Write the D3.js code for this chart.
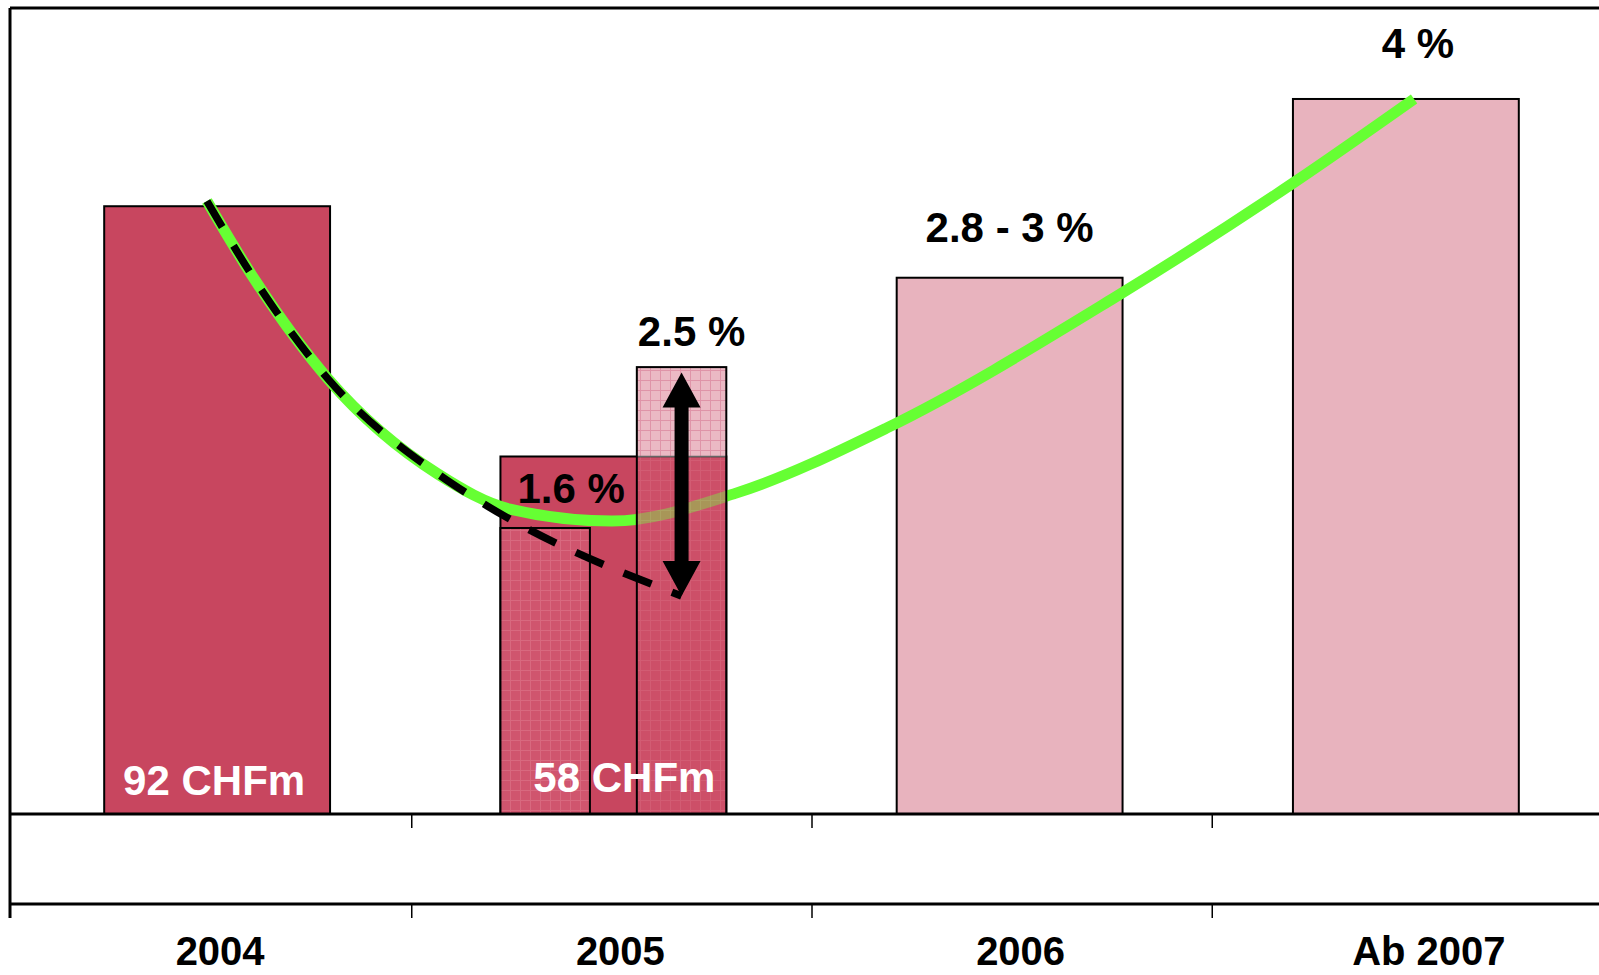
<!DOCTYPE html>
<html>
<head>
<meta charset="utf-8">
<script src="https://cdn.jsdelivr.net/npm/d3@7"></script>
<style>
  html, body { margin: 0; padding: 0; background: #fff; }
  svg { display: block; }
  text { font-family: "Liberation Sans", Arial, Helvetica, sans-serif; font-weight: bold; }
</style>
</head>
<body>
<svg id="chart" width="1599" height="975"></svg>
<script>
// ---------- DATA ----------
const categories = ["2004", "2005", "2006", "Ab 2007"];
const barValues = [3.4, 2.0, 3.0, 4.0];            // main bar heights (%)
const barKinds = ["actual", "actual", "forecast", "forecast"];
const amountLabels = ["92 CHFm", "58 CHFm"];
const subBarNames = ["budget", "target"];           // 2005 split bars
const subBarValues = [1.6, 2.5];
const pctLabels = ["1.6 %", "2.5 %", "2.8 - 3 %", "4 %"];
const pctLabelValues = [2.0, 2.5, 3.0, 4.0];

// trend curve (position on the year axis, %)
const trendIdx = [-0.008, 0.112, 0.295, 0.569, 0.749, 1.004, 1.314, 1.691, 2.258, 2.71, 3.008];
const trendPct = [3.429, 2.987, 2.433, 1.902, 1.706, 1.639, 1.795, 2.160, 2.887, 3.536, 4.0];
// dashed "old" path
const dashIdx = [-0.008, 0.112, 0.295, 0.569, 0.68];
const dashPct = [3.429, 2.987, 2.433, 1.902, 1.74];
const arrowFrom = 1.22;   // arrow bottom (%)
const arrowTo = 2.47;     // arrow top (%)

// ---------- SETUP ----------
const svg = d3.select("#chart");
const W = 1599;
const baseY = 814, axis2Y = 904, frameTop = 8, frameLeft = 10;

const y = d3.scaleLinear().domain([0, 4.5]).range([baseY, 9.6]);
const axisX = d3.scaleBand().domain(categories).range([10, 1611]);
const barX = d3.scaleBand().domain(categories).range([19, 1604]).paddingInner(0.43).paddingOuter(0.215);
const curveX = d3.scaleLinear().domain([-0.5, 3.5]).range([10, 1611]);
const subX = d3.scaleBand().domain(subBarNames).range([0, barX.bandwidth()]).paddingInner(0.344);

const colDark = "#c8465f", colLight = "#e8b3be";

// patterns
const defs = svg.append("defs");
function makePattern(id, base, line) {
  const p = defs.append("pattern").attr("id", id).attr("patternUnits", "userSpaceOnUse")
    .attr("width", 10).attr("height", 10);
  p.append("rect").attr("width", 10).attr("height", 10).attr("fill", base);
  p.append("path").attr("d", "M0 0.5H10M0.5 0V10").attr("stroke", line).attr("stroke-width", 1).attr("fill", "none");
}
makePattern("hatchMed", "#d0556e", "#d8697f");
makePattern("hatchLight", "#ebb9c4", "#df94a8");

// ---------- MAIN BARS ----------
svg.append("g").selectAll("rect").data(categories).join("rect")
  .attr("x", d => barX(d))
  .attr("y", (d, i) => y(barValues[i]))
  .attr("width", barX.bandwidth())
  .attr("height", (d, i) => baseY - y(barValues[i]))
  .attr("fill", (d, i) => barKinds[i] === "actual" ? colDark : colLight)
  .attr("stroke", "#000").attr("stroke-width", 2);

// 2005 split bars
const x05 = barX("2005");
svg.append("rect")
  .attr("x", x05 + subX(subBarNames[0])).attr("y", y(subBarValues[0]))
  .attr("width", subX.bandwidth()).attr("height", baseY - y(subBarValues[0]))
  .attr("fill", "url(#hatchMed)").attr("stroke", "#000").attr("stroke-width", 2);

// ---------- TREND CURVE ----------
const trendData = trendIdx.map((v, i) => [v, trendPct[i]]);
const line = d3.line().x(d => curveX(d[0])).y(d => y(d[1])).curve(d3.curveMonotoneX);
svg.append("path").datum(trendData).attr("d", line)
  .attr("fill", "none").attr("stroke", "#66ff33").attr("stroke-width", 11);

// right (2.5 %) bar, semi-transparent over the curve
const rx = x05 + subX(subBarNames[1]);
const rg = svg.append("g");
rg.append("rect")
  .attr("x", rx).attr("y", y(barValues[1]))
  .attr("width", subX.bandwidth()).attr("height", baseY - y(barValues[1]))
  .attr("fill", "url(#hatchMed)").attr("opacity", 0.62);
rg.append("rect")
  .attr("x", rx).attr("y", y(subBarValues[1]))
  .attr("width", subX.bandwidth()).attr("height", y(barValues[1]) - y(subBarValues[1]))
  .attr("fill", "url(#hatchLight)");
rg.append("line")
  .attr("x1", rx).attr("x2", rx + subX.bandwidth())
  .attr("y1", y(barValues[1])).attr("y2", y(barValues[1]))
  .attr("stroke", "#666").attr("stroke-width", 1.5);
rg.append("rect")
  .attr("x", rx).attr("y", y(subBarValues[1]))
  .attr("width", subX.bandwidth()).attr("height", baseY - y(subBarValues[1]))
  .attr("fill", "none").attr("stroke", "#000").attr("stroke-width", 2);

// ---------- DASHED LINE ----------
const arrowX = rx + subX.bandwidth() / 2;
const dashData = dashIdx.map((v, i) => [v, dashPct[i]]).concat([[curveX.invert(arrowX), arrowFrom]]);
svg.append("path").datum(dashData).attr("d", line)
  .attr("fill", "none").attr("stroke", "#000").attr("stroke-width", 7.5)
  .attr("stroke-dasharray", "30,22");

// ---------- ARROW ----------
const aTop = y(arrowTo), aBot = y(arrowFrom), hw = 19, hl = 35, sw = 7;
svg.append("path")
  .attr("d", `M${arrowX},${aTop} L${arrowX + hw},${aTop + hl} L${arrowX + sw},${aTop + hl}
              L${arrowX + sw},${aBot - hl} L${arrowX + hw},${aBot - hl} L${arrowX},${aBot}
              L${arrowX - hw},${aBot - hl} L${arrowX - sw},${aBot - hl} L${arrowX - sw},${aTop + hl}
              L${arrowX - hw},${aTop + hl} Z`)
  .attr("fill", "#000");

// ---------- AXES / FRAME ----------
const g = svg.append("g").attr("stroke", "#000");
g.append("line").attr("x1", frameLeft).attr("x2", W).attr("y1", frameTop).attr("y2", frameTop).attr("stroke-width", 3);
g.append("line").attr("x1", frameLeft).attr("x2", frameLeft).attr("y1", frameTop).attr("y2", axis2Y + 14).attr("stroke-width", 3);
g.append("line").attr("x1", frameLeft).attr("x2", W).attr("y1", baseY).attr("y2", baseY).attr("stroke-width", 3);
g.append("line").attr("x1", frameLeft).attr("x2", W).attr("y1", axis2Y).attr("y2", axis2Y).attr("stroke-width", 3);
const tickPos = categories.slice(1).map(c => axisX(c) + 1.5);
g.selectAll(".t1").data(tickPos).join("line")
  .attr("x1", d => d).attr("x2", d => d).attr("y1", baseY).attr("y2", baseY + 14).attr("stroke-width", 1.5);
g.selectAll(".t2").data(tickPos).join("line")
  .attr("x1", d => d).attr("x2", d => d).attr("y1", axis2Y).attr("y2", axis2Y + 14).attr("stroke-width", 1.5);

svg.append("g").selectAll("text").data(categories).join("text")
  .attr("x", (d, i) => axisX(d) + axisX.bandwidth() / 2 + (i === 3 ? 18 : 10))
  .attr("y", 965)
  .attr("text-anchor", "middle").attr("font-size", 40).attr("fill", "#000")
  .text(d => d);

// ---------- LABELS ----------
const amtDx = [-3, 11];
svg.append("g").selectAll("text").data(amountLabels).join("text")
  .attr("x", (d, i) => barX(categories[i]) + barX.bandwidth() / 2 + amtDx[i])
  .attr("y", (d, i) => i === 0 ? 795 : 792)
  .attr("text-anchor", "middle").attr("font-size", 42).attr("fill", "#fff")
  .text(d => d);

const pctPos = [
  { x: x05 + subX(subBarNames[0]) + subX.bandwidth() / 2 + 26, dy: 47 },
  { x: arrowX + 10, dy: -21 },
  { x: barX("2006") + barX.bandwidth() / 2, dy: -36 },
  { x: barX("Ab 2007") + barX.bandwidth() / 2 + 12, dy: -41 }
];
svg.append("g").selectAll("text").data(pctLabels).join("text")
  .attr("x", (d, i) => pctPos[i].x)
  .attr("y", (d, i) => y(pctLabelValues[i]) + pctPos[i].dy)
  .attr("text-anchor", "middle").attr("font-size", 42).attr("fill", "#000")
  .text(d => d);
</script>
</body>
</html>
